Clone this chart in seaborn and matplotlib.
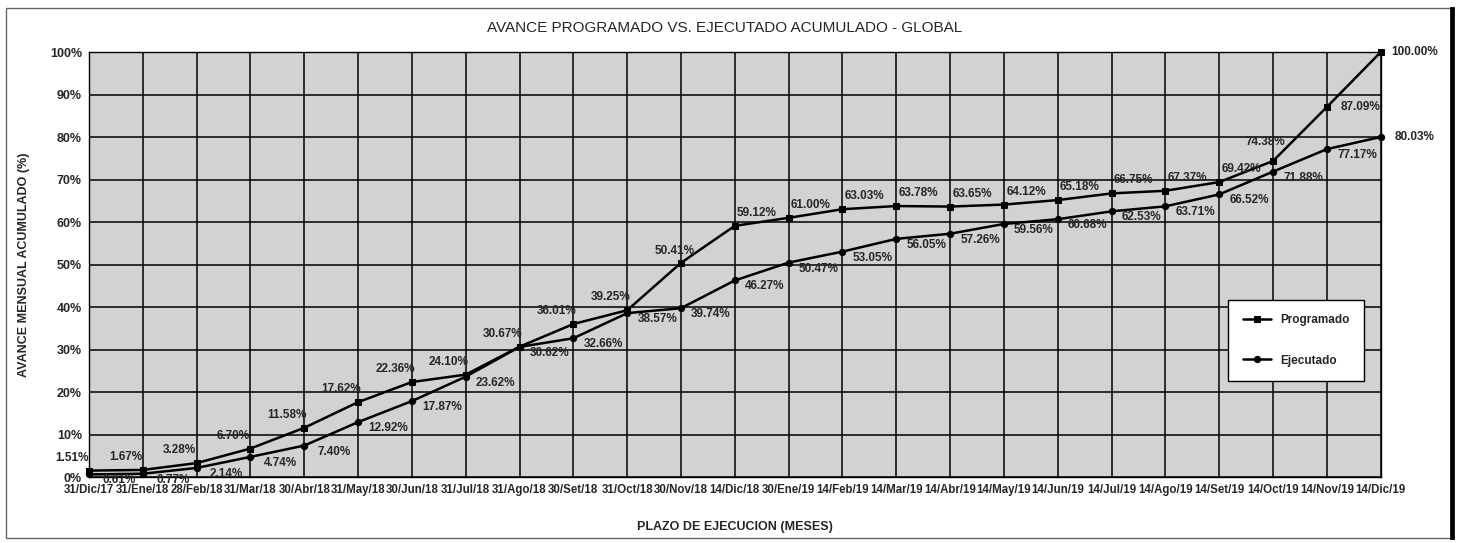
import numpy as np
import pandas as pd
import seaborn as sns
import matplotlib.pyplot as plt
from matplotlib.ticker import FuncFormatter
from matplotlib.patches import Rectangle

fechas = ['31/Dic/17', '31/Ene/18', '28/Feb/18', '31/Mar/18', '30/Abr/18', '31/May/18',
          '30/Jun/18', '31/Jul/18', '31/Ago/18', '30/Set/18', '31/Oct/18', '30/Nov/18',
          '14/Dic/18', '30/Ene/19', '14/Feb/19', '14/Mar/19', '14/Abr/19', '14/May/19',
          '14/Jun/19', '14/Jul/19', '14/Ago/19', '14/Set/19', '14/Oct/19', '14/Nov/19',
          '14/Dic/19']
programado = [1.51, 1.67, 3.28, 6.70, 11.58, 17.62, 22.36, 24.10, 30.67, 36.01, 39.25, 50.41,
              59.12, 61.00, 63.03, 63.78, 63.65, 64.12, 65.18, 66.75, 67.37, 69.42, 74.38,
              87.09, 100.00]
ejecutado = [0.61, 0.77, 2.14, 4.74, 7.40, 12.92, 17.87, 23.62, 30.62, 32.66, 38.57, 39.74,
             46.27, 50.47, 53.05, 56.05, 57.26, 59.56, 60.68, 62.53, 63.71, 66.52, 71.88,
             77.17, 80.03]

sns.set_style('white')
plt.rcParams['font.family'] = ['Liberation Sans Narrow', 'Liberation Sans', 'DejaVu Sans']

df = pd.DataFrame({
    'mes': list(range(len(fechas))) * 2,
    'avance': programado + ejecutado,
    'serie': ['Programado'] * len(fechas) + ['Ejecutado'] * len(fechas),
})

fig = plt.figure(figsize=(14.58, 5.43), dpi=100)
ax = fig.add_axes([0.061, 0.1215, 0.886, 0.7825])
ax.set_facecolor('#d2d2d2')

sns.lineplot(data=df, x='mes', y='avance', hue='serie', style='serie',
             palette={'Programado': 'black', 'Ejecutado': 'black'},
             markers={'Programado': 's', 'Ejecutado': 'o'}, dashes=False,
             linewidth=1.8, markersize=4.5, markeredgecolor='black', ax=ax, clip_on=False)

# data labels
def prog_offset(i):
    if i >= 23:
        return (34, 0)
    if i == 22:
        return (-8, 19)
    if i == 11:
        return (-6, 12)
    if i >= 12:
        return (22, 13)
    return (-17, 13)

for i, v in enumerate(programado):
    ax.annotate(f'{v:.2f}%', (i, v), xytext=prog_offset(i), textcoords='offset pixels',
                ha='center', va='center', fontsize=8.5, fontweight='bold', annotation_clip=False)
for i, v in enumerate(ejecutado):
    off = (34, 0) if i == 24 else (30, -6)
    ax.annotate(f'{v:.2f}%', (i, v), xytext=off, textcoords='offset pixels',
                ha='center', va='center', fontsize=8.5, fontweight='bold', annotation_clip=False)

ax.set_xlim(0, len(fechas) - 1)
ax.set_ylim(0, 100)
ax.set_xticks(range(len(fechas)))
ax.set_xticklabels(fechas, fontsize=8.3, fontweight='bold')
ax.set_yticks(np.arange(0, 101, 10))
ax.yaxis.set_major_formatter(FuncFormatter(lambda v, p: f'{v:.0f}%'))
for lbl in ax.get_yticklabels():
    lbl.set_fontweight('bold')
    lbl.set_fontsize(9)
ax.tick_params(axis='both', direction='out', length=3, width=1, color='black', pad=2)
ax.grid(True, color='black', linewidth=1.1)
for s in ax.spines.values():
    s.set_color('black')
    s.set_linewidth(1)

ax.set_xlabel('PLAZO DE EJECUCION (MESES)', fontsize=9, fontweight='bold', labelpad=18)
ax.set_ylabel('AVANCE MENSUAL ACUMULADO (%)', fontsize=9, fontweight='bold', labelpad=14)
fig.text(0.497, 0.948, 'AVANCE PROGRAMADO VS. EJECUTADO ACUMULADO - GLOBAL',
         ha='center', va='center', fontsize=11)

ax.legend(loc='center', bbox_to_anchor=(0.882, 0.212, 0.105, 0.219), frameon=True,
          fancybox=False, edgecolor='black', facecolor='white', framealpha=1,
          labelspacing=2.4, handlelength=2.4, borderpad=1.2,
          prop={'weight': 'bold', 'size': 8.5})

fig.patches.append(Rectangle((0.004, 0.01), 0.992, 0.975, transform=fig.transFigure,
                             fill=False, edgecolor='#666666', linewidth=1))
fig.patches.append(Rectangle((0.9955, 0.01), 0.001, 0.975, transform=fig.transFigure,
                             fill=False, edgecolor='black', linewidth=2))

fig.savefig('out.png', dpi=100)
